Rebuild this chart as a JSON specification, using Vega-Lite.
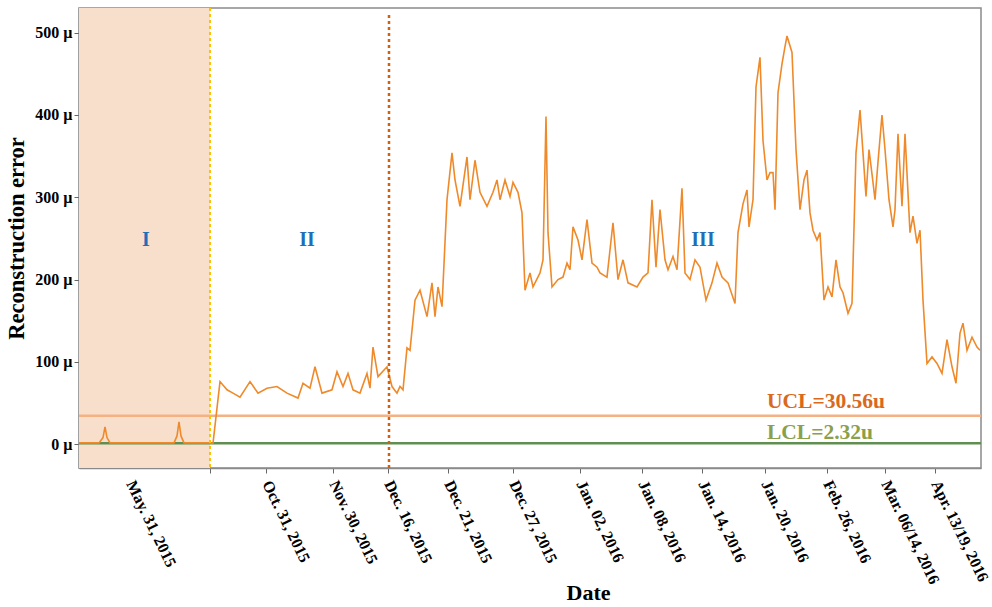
{
  "$schema": "https://vega.github.io/schema/vega-lite/v6.json",
  "width": 902,
  "height": 460,
  "autosize": {"type": "none"},
  "padding": {"left": 79, "top": 8, "right": 11, "bottom": 139},
  "background": "white",
  "data": {"values": [{}]},
  "config": {
    "view": {"stroke": "#8a8a8a", "strokeWidth": 1.5},
    "font": "Liberation Serif"
  },
  "datasets": {
    "series": [
      {"t": 0, "v": 1.5}, {"t": 20, "v": 1.5}, {"t": 24, "v": 8}, {"t": 26, "v": 21}, {"t": 28, "v": 8}, {"t": 31, "v": 1.5},
      {"t": 95, "v": 1.5}, {"t": 98, "v": 10}, {"t": 100, "v": 27}, {"t": 102, "v": 10}, {"t": 105, "v": 1.5},
      {"t": 131, "v": 1.5}, {"t": 134, "v": 1}, {"t": 141, "v": 76}, {"t": 148, "v": 66}, {"t": 154, "v": 62},
      {"t": 161, "v": 57}, {"t": 171, "v": 76}, {"t": 179, "v": 62}, {"t": 188, "v": 68}, {"t": 198, "v": 70},
      {"t": 208, "v": 62}, {"t": 219, "v": 56}, {"t": 224, "v": 74}, {"t": 231, "v": 68}, {"t": 236, "v": 94},
      {"t": 243, "v": 62}, {"t": 253, "v": 66}, {"t": 258, "v": 88}, {"t": 264, "v": 70}, {"t": 269, "v": 86},
      {"t": 274, "v": 66}, {"t": 281, "v": 62}, {"t": 288, "v": 86}, {"t": 291, "v": 68}, {"t": 294, "v": 118},
      {"t": 299, "v": 82}, {"t": 308, "v": 94}, {"t": 313, "v": 70}, {"t": 318, "v": 62}, {"t": 321, "v": 70},
      {"t": 324, "v": 66}, {"t": 328, "v": 117}, {"t": 331, "v": 114}, {"t": 336, "v": 175}, {"t": 341, "v": 187},
      {"t": 348, "v": 155}, {"t": 353, "v": 196}, {"t": 356, "v": 155}, {"t": 359, "v": 191}, {"t": 363, "v": 167},
      {"t": 368, "v": 297}, {"t": 373, "v": 354}, {"t": 376, "v": 321}, {"t": 381, "v": 289}, {"t": 388, "v": 349},
      {"t": 391, "v": 297}, {"t": 396, "v": 345}, {"t": 401, "v": 306}, {"t": 408, "v": 289}, {"t": 414, "v": 306},
      {"t": 418, "v": 321}, {"t": 421, "v": 297}, {"t": 426, "v": 321}, {"t": 431, "v": 301}, {"t": 434, "v": 318},
      {"t": 439, "v": 306}, {"t": 443, "v": 281}, {"t": 446, "v": 187}, {"t": 451, "v": 208}, {"t": 454, "v": 191},
      {"t": 461, "v": 208}, {"t": 464, "v": 224}, {"t": 467, "v": 398}, {"t": 469, "v": 257}, {"t": 473, "v": 191},
      {"t": 479, "v": 200}, {"t": 484, "v": 203}, {"t": 488, "v": 220}, {"t": 491, "v": 212}, {"t": 494, "v": 264},
      {"t": 499, "v": 248}, {"t": 503, "v": 224}, {"t": 508, "v": 273}, {"t": 513, "v": 220}, {"t": 518, "v": 215},
      {"t": 521, "v": 208}, {"t": 528, "v": 203}, {"t": 534, "v": 269}, {"t": 539, "v": 200}, {"t": 544, "v": 224},
      {"t": 549, "v": 196}, {"t": 558, "v": 191}, {"t": 564, "v": 203}, {"t": 569, "v": 208}, {"t": 573, "v": 297},
      {"t": 577, "v": 215}, {"t": 581, "v": 285}, {"t": 586, "v": 224}, {"t": 589, "v": 212}, {"t": 594, "v": 228},
      {"t": 598, "v": 212}, {"t": 603, "v": 311}, {"t": 606, "v": 208}, {"t": 611, "v": 200}, {"t": 616, "v": 224},
      {"t": 621, "v": 215}, {"t": 627, "v": 175}, {"t": 633, "v": 196}, {"t": 638, "v": 220}, {"t": 643, "v": 203},
      {"t": 649, "v": 196}, {"t": 656, "v": 171}, {"t": 659, "v": 257}, {"t": 664, "v": 292}, {"t": 668, "v": 309},
      {"t": 670, "v": 264}, {"t": 674, "v": 297}, {"t": 677, "v": 434}, {"t": 681, "v": 470}, {"t": 684, "v": 369},
      {"t": 688, "v": 321}, {"t": 691, "v": 330}, {"t": 694, "v": 330}, {"t": 696, "v": 285}, {"t": 699, "v": 427},
      {"t": 703, "v": 462}, {"t": 706, "v": 483}, {"t": 708, "v": 496}, {"t": 713, "v": 476}, {"t": 717, "v": 358},
      {"t": 721, "v": 285}, {"t": 725, "v": 321}, {"t": 728, "v": 333}, {"t": 731, "v": 281}, {"t": 734, "v": 260},
      {"t": 738, "v": 248}, {"t": 741, "v": 257}, {"t": 745, "v": 175}, {"t": 749, "v": 191}, {"t": 753, "v": 179},
      {"t": 757, "v": 224}, {"t": 761, "v": 191}, {"t": 764, "v": 184}, {"t": 769, "v": 159}, {"t": 773, "v": 171},
      {"t": 777, "v": 354}, {"t": 781, "v": 406}, {"t": 784, "v": 354}, {"t": 787, "v": 301}, {"t": 790, "v": 358},
      {"t": 794, "v": 318}, {"t": 796, "v": 297}, {"t": 799, "v": 343}, {"t": 803, "v": 400}, {"t": 806, "v": 358},
      {"t": 810, "v": 297}, {"t": 814, "v": 264}, {"t": 816, "v": 285}, {"t": 819, "v": 377}, {"t": 823, "v": 289},
      {"t": 826, "v": 377}, {"t": 831, "v": 257}, {"t": 834, "v": 277}, {"t": 838, "v": 244}, {"t": 841, "v": 260},
      {"t": 844, "v": 175}, {"t": 848, "v": 98}, {"t": 853, "v": 106}, {"t": 858, "v": 98}, {"t": 863, "v": 86},
      {"t": 868, "v": 127}, {"t": 873, "v": 94}, {"t": 877, "v": 74}, {"t": 881, "v": 135}, {"t": 884, "v": 147},
      {"t": 888, "v": 114}, {"t": 893, "v": 130}, {"t": 898, "v": 118}, {"t": 901, "v": 114}
    ]
  },
  "layer": [
    {
      "mark": {"type": "rect", "color": "#f7dfcc"},
      "encoding": {
        "x": {"datum": 0, "type": "quantitative"},
        "x2": {"datum": 131},
        "y": {"datum": -29, "type": "quantitative"},
        "y2": {"datum": 530}
      }
    },
    {
      "mark": {"type": "rule", "color": "#f4b183", "strokeWidth": 2.5},
      "encoding": {"y": {"datum": 34.5, "type": "quantitative"}}
    },
    {
      "mark": {"type": "rule", "color": "#5e8f50", "strokeWidth": 2.5},
      "encoding": {"y": {"datum": 1, "type": "quantitative"}}
    },
    {
      "data": {"name": "series"},
      "mark": {"type": "line", "color": "#ef8a2a", "strokeWidth": 1.6, "interpolate": "linear"},
      "encoding": {
        "x": {
          "field": "t",
          "type": "quantitative",
          "scale": {"domain": [0, 902], "nice": false, "zero": false},
          "axis": {
            "values": [51, 131, 187, 254, 309, 369, 434, 501, 563, 623, 686, 748, 806, 856],
            "labelExpr": "datum.value == 51 ? 'May. 31, 2015' : datum.value == 187 ? 'Oct. 31, 2015' : datum.value == 254 ? 'Nov. 30, 2015' : datum.value == 309 ? 'Dec. 16, 2015' : datum.value == 369 ? 'Dec. 21, 2015' : datum.value == 434 ? 'Dec. 27, 2015' : datum.value == 501 ? 'Jan. 02, 2016' : datum.value == 563 ? 'Jan. 08, 2016' : datum.value == 623 ? 'Jan. 14, 2016' : datum.value == 686 ? 'Jan. 20, 2016' : datum.value == 748 ? 'Feb. 26, 2016' : datum.value == 806 ? 'Mar. 06/14, 2016' : datum.value == 856 ? 'Apr. 13/19, 2016' : ''",
            "labelAngle": 64,
            "labelAlign": "left",
            "labelBaseline": "middle",
            "labelFont": "Liberation Serif",
            "labelFontWeight": "bold",
            "labelFontSize": 16,
            "labelColor": "black",
            "labelPadding": 8,
            "labelOverlap": false,
            "labelBound": false,
            "tickOpacity": {"condition": {"test": "datum.value == 51", "value": 0}, "value": 1},
            "tickColor": "#666666",
            "tickSize": 5,
            "domainColor": "#8a8a8a",
            "domainWidth": 1.5,
            "grid": false,
            "title": "Date",
            "titleFont": "Liberation Serif",
            "titleFontWeight": "bold",
            "titleFontSize": 22,
            "titleColor": "black",
            "titleX": 509,
            "titleY": 114,
            "titleAlign": "center",
            "titleBaseline": "top"
          }
        },
        "y": {
          "field": "v",
          "type": "quantitative",
          "scale": {"domain": [-29, 530], "nice": false, "zero": false},
          "axis": {
            "values": [0, 100, 200, 300, 400, 500],
            "labelExpr": "datum.value + ' µ'",
            "labelFont": "Liberation Serif",
            "labelFontWeight": "bold",
            "labelFontSize": 16,
            "labelColor": "black",
            "labelPadding": 2,
            "tickColor": "#666666",
            "tickSize": 5,
            "domainColor": "#8a8a8a",
            "domainWidth": 1.5,
            "grid": false,
            "title": "Reconstruction error",
            "titleFont": "Liberation Serif",
            "titleFontWeight": "bold",
            "titleFontSize": 22.5,
            "titleColor": "black",
            "titlePadding": 6
          }
        }
      }
    },
    {
      "mark": {"type": "rule", "color": "#ffc000", "strokeWidth": 2, "strokeDash": [3, 3]},
      "encoding": {"x": {"datum": 131, "type": "quantitative"}}
    },
    {
      "mark": {"type": "rule", "color": "#d2600c", "strokeWidth": 2.5, "strokeDash": [3, 3]},
      "encoding": {"x": {"datum": 310, "type": "quantitative"}, "y": {"datum": -29, "type": "quantitative"}, "y2": {"datum": 524}}
    },
    {
      "mark": {"type": "text", "text": "I", "color": "#1f6fb8", "font": "Liberation Serif", "fontWeight": "bold", "fontSize": 20, "align": "center", "baseline": "middle"},
      "encoding": {"x": {"datum": 67, "type": "quantitative"}, "y": {"datum": 248, "type": "quantitative"}}
    },
    {
      "mark": {"type": "text", "text": "II", "color": "#1f6fb8", "font": "Liberation Serif", "fontWeight": "bold", "fontSize": 20, "align": "center", "baseline": "middle"},
      "encoding": {"x": {"datum": 228, "type": "quantitative"}, "y": {"datum": 248, "type": "quantitative"}}
    },
    {
      "mark": {"type": "text", "text": "III", "color": "#1f6fb8", "font": "Liberation Serif", "fontWeight": "bold", "fontSize": 20, "align": "center", "baseline": "middle"},
      "encoding": {"x": {"datum": 624, "type": "quantitative"}, "y": {"datum": 248, "type": "quantitative"}}
    },
    {
      "mark": {"type": "text", "text": "UCL=30.56u", "color": "#d9691e", "font": "Liberation Serif", "fontWeight": "bold", "fontSize": 21.5, "align": "left", "baseline": "middle"},
      "encoding": {"x": {"datum": 688, "type": "quantitative"}, "y": {"datum": 51, "type": "quantitative"}}
    },
    {
      "mark": {"type": "text", "text": "LCL=2.32u", "color": "#8aa04a", "font": "Liberation Serif", "fontWeight": "bold", "fontSize": 21.5, "align": "left", "baseline": "middle"},
      "encoding": {"x": {"datum": 688, "type": "quantitative"}, "y": {"datum": 13, "type": "quantitative"}}
    }
  ]
}
